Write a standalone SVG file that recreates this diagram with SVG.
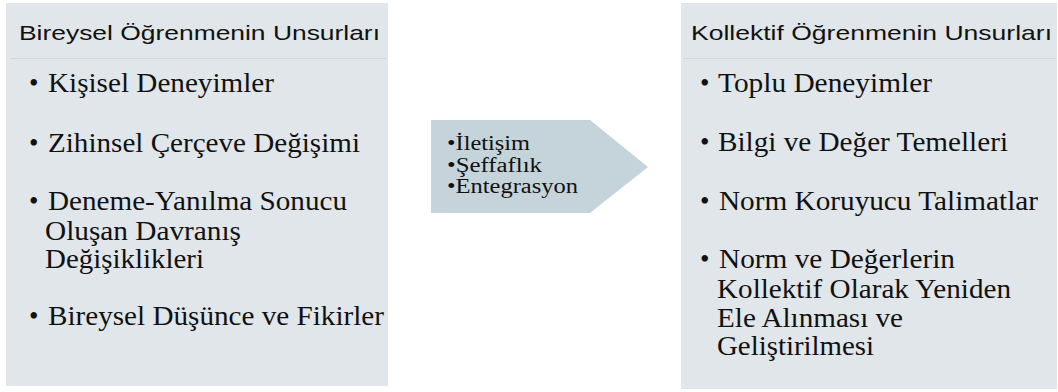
<svg xmlns="http://www.w3.org/2000/svg" width="1058" height="392" viewBox="0 0 1058 392">
  <style>
    .panel { fill: #e0e6e9; }
    .rule { stroke: #cfd8dc; stroke-width: 1; }
    .title { font-family: "Liberation Sans", Arial, sans-serif; font-size: 21px; fill: #111; }
    .item { font-family: "Liberation Serif", "Times New Roman", serif; font-size: 27px; fill: #111; }
    .flow { font-family: "Liberation Serif", "Times New Roman", serif; font-size: 20px; fill: #111; }
    .arrow { fill: #c5d3da; }
  </style>
  <rect width="1058" height="392" fill="#ffffff"/>

  <!-- Individual learning panel -->
  <g id="individual">
    <rect class="panel" x="6" y="3" width="382" height="383"/>
    <line class="rule" x1="10" y1="58.5" x2="386" y2="58.5"/>
    <text class="title" x="19" y="40" textLength="361" lengthAdjust="spacingAndGlyphs">Bireysel Öğrenmenin Unsurları</text>
    <text class="item" x="29" y="92">•</text>
    <text class="item" x="48" y="92" textLength="226" lengthAdjust="spacingAndGlyphs">Kişisel Deneyimler</text>
    <text class="item" x="29" y="152">•</text>
    <text class="item" x="48" y="152" textLength="312" lengthAdjust="spacingAndGlyphs">Zihinsel Çerçeve Değişimi</text>
    <text class="item" x="29" y="210">•</text>
    <text class="item" x="48" y="210" textLength="299" lengthAdjust="spacingAndGlyphs">Deneme-Yanılma Sonucu</text>
    <text class="item" x="45" y="240" textLength="196" lengthAdjust="spacingAndGlyphs">Oluşan Davranış</text>
    <text class="item" x="45" y="268" textLength="159" lengthAdjust="spacingAndGlyphs">Değişiklikleri</text>
    <text class="item" x="29" y="325">•</text>
    <text class="item" x="48" y="325" textLength="336" lengthAdjust="spacingAndGlyphs">Bireysel Düşünce ve Fikirler</text>
  </g>

  <!-- Transition arrow -->
  <g id="transition">
    <polygon class="arrow" points="431,120 590,120 648,167 590,213 431,213"/>
    <text class="flow" x="447" y="150" textLength="83" lengthAdjust="spacingAndGlyphs">•İletişim</text>
    <text class="flow" x="447" y="172" textLength="95" lengthAdjust="spacingAndGlyphs">•Şeffaflık</text>
    <text class="flow" x="447" y="193" textLength="131" lengthAdjust="spacingAndGlyphs">•Entegrasyon</text>
  </g>

  <!-- Collective learning panel -->
  <g id="collective">
    <rect class="panel" x="681" y="3" width="376" height="386"/>
    <line class="rule" x1="683" y1="58.5" x2="1056" y2="58.5"/>
    <text class="title" x="691" y="40" textLength="361" lengthAdjust="spacingAndGlyphs">Kollektif Öğrenmenin Unsurları</text>
    <text class="item" x="700" y="92">•</text>
    <text class="item" x="718" y="92" textLength="214" lengthAdjust="spacingAndGlyphs">Toplu Deneyimler</text>
    <text class="item" x="700" y="151">•</text>
    <text class="item" x="718" y="151" textLength="290" lengthAdjust="spacingAndGlyphs">Bilgi ve Değer Temelleri</text>
    <text class="item" x="700" y="210">•</text>
    <text class="item" x="719" y="210" textLength="319" lengthAdjust="spacingAndGlyphs">Norm Koruyucu Talimatlar</text>
    <text class="item" x="700" y="268">•</text>
    <text class="item" x="719" y="268" textLength="236" lengthAdjust="spacingAndGlyphs">Norm ve Değerlerin</text>
    <text class="item" x="717" y="298" textLength="294" lengthAdjust="spacingAndGlyphs">Kollektif Olarak Yeniden</text>
    <text class="item" x="717" y="327" textLength="186" lengthAdjust="spacingAndGlyphs">Ele Alınması ve</text>
    <text class="item" x="717" y="355" textLength="157" lengthAdjust="spacingAndGlyphs">Geliştirilmesi</text>
  </g>

  <g id="connectors"/>
</svg>
